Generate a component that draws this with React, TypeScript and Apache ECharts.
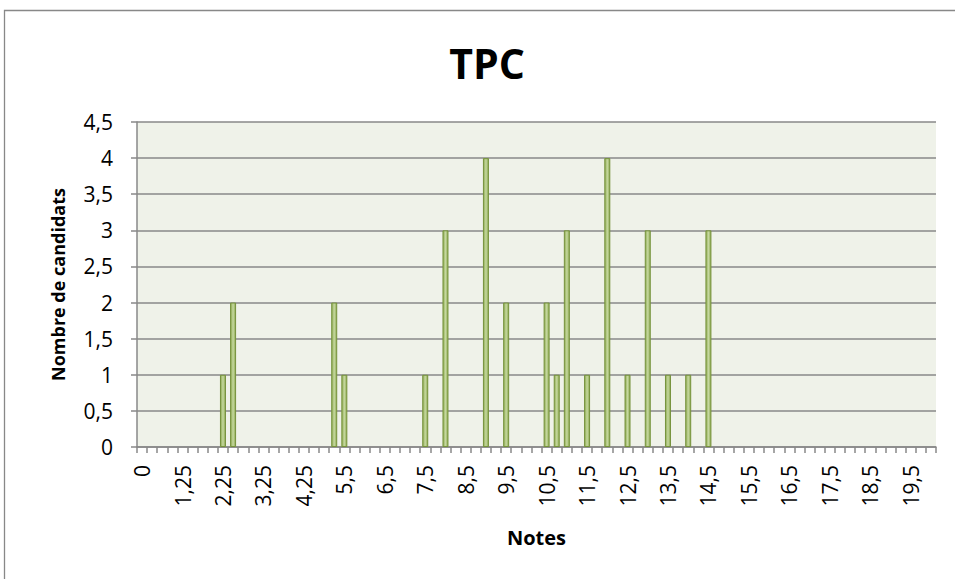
import React, { useEffect, useRef } from 'react';
import * as echarts from 'echarts';

const categories = [
  '0', '0,5', '0,75', '1', '1,25', '1,5', '1,75', '2', '2,25', '2,5', '2,75', '3',
  '3,25', '3,5', '3,75', '4', '4,25', '4,5', '4,75', '5', '5,5', '5,75', '6', '6,25',
  '6,5', '6,75', '7', '7,25', '7,5', '7,75', '8', '8,25', '8,5', '8,75', '9', '9,25',
  '9,5', '9,75', '10', '10,25', '10,5', '10,75', '11', '11,25', '11,5', '11,75', '12', '12,25',
  '12,5', '12,75', '13', '13,25', '13,5', '13,75', '14', '14,25', '14,5', '14,75', '15', '15,25',
  '15,5', '15,75', '16', '16,25', '16,5', '16,75', '17', '17,25', '17,5', '17,75', '18', '18,25',
  '18,5', '18,75', '19', '19,25', '19,5', '19,75', '20',
];

const notesWithCandidates = ['2,25', '2,5', '5', '5,5', '7,5', '8', '9', '9,5', '10,5', '10,75', '11', '11,5', '12', '12,5', '13', '13,5', '14', '14,5'];
const candidateCounts = [1, 2, 2, 1, 1, 3, 4, 2, 2, 1, 3, 1, 4, 1, 3, 1, 1, 3];

const FONT = 'Open Sans';

export default function App() {
  const ref = useRef<HTMLDivElement>(null);
  useEffect(() => {
    if (!ref.current) return;
    const chart = echarts.init(ref.current, null, { renderer: 'svg' });
    const data = categories.map((c) => {
      const i = notesWithCandidates.indexOf(c);
      return i >= 0 ? candidateCounts[i] : null;
    });
    chart.setOption({
      animation: false,
      backgroundColor: '#ffffff',
      title: {
        text: 'TPC',
        left: 482,
        top: 37,
        textAlign: 'center',
        textStyle: { fontFamily: FONT, fontWeight: 'bold', fontSize: 41, color: '#000' },
      },
      graphic: [
        {
          type: 'polyline',
          shape: { points: [[4.5, 600], [4.5, 10.5], [1000, 10.5]] },
          style: { stroke: '#888888', lineWidth: 1.3, fill: null },
          silent: true,
        },
      ],
      grid: { left: 137, top: 122, right: 19, bottom: 132, show: true, backgroundColor: '#EFF2E9', borderWidth: 0 },
      xAxis: {
        type: 'category',
        data: categories,
        boundaryGap: true,
        name: 'Notes',
        nameLocation: 'middle',
        nameGap: 80,
        nameTextStyle: { fontFamily: FONT, fontWeight: 'bold', fontSize: 20, color: '#000' },
        axisLine: { show: true, lineStyle: { color: '#888888', width: 1.5 } },
        axisTick: { show: true, interval: 0, length: 6, alignWithLabel: false, lineStyle: { color: '#888888', width: 1.5 } },
        axisLabel: { interval: 3, rotate: 90, margin: 18, fontFamily: FONT, fontSize: 21, color: '#000' },
        splitLine: { show: false },
      },
      yAxis: {
        type: 'value',
        min: 0,
        max: 4.5,
        interval: 0.5,
        name: 'Nombre de candidats',
        nameLocation: 'middle',
        nameGap: 70,
        nameTextStyle: { fontFamily: FONT, fontWeight: 'bold', fontSize: 18, color: '#000' },
        axisLine: { show: true, lineStyle: { color: '#888888', width: 1.5 } },
        axisTick: { show: true, length: 6, lineStyle: { color: '#888888', width: 1.5 } },
        axisLabel: {
          margin: 24,
          fontFamily: FONT,
          fontSize: 21,
          color: '#000',
          formatter: (v: number) => String(v).replace('.', ','),
        },
        splitLine: { show: true, lineStyle: { color: '#888888', width: 1.5 } },
      },
      series: [
        {
          type: 'bar',
          data,
          barWidth: 6,
          itemStyle: {
            color: new echarts.graphic.LinearGradient(0, 0, 1, 0, [
              { offset: 0, color: '#8DAA50' },
              { offset: 0.5, color: '#C6D8A0' },
              { offset: 1, color: '#8DAA50' },
            ]),
            borderColor: '#76923C',
            borderWidth: 1,
          },
        },
      ],
    });
    return () => chart.dispose();
  }, []);
  return <div ref={ref} style={{ position: 'fixed', left: 0, top: 0, width: 955, height: 579 }} />;
}
